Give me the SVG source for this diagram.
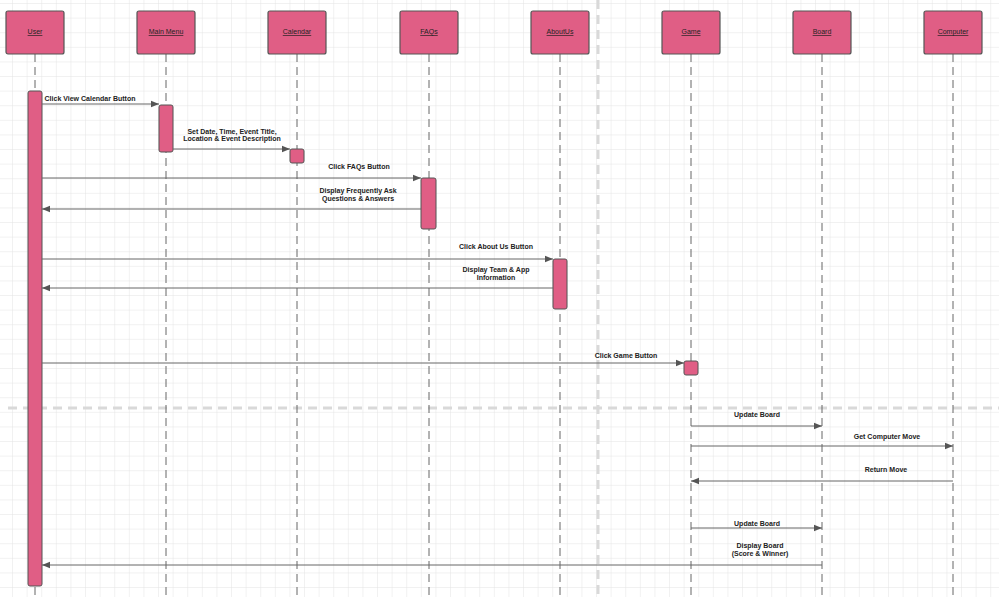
<svg xmlns="http://www.w3.org/2000/svg" width="999" height="597" viewBox="0 0 999 597">
<defs>
<pattern id="grid" width="14.6" height="14.6" patternUnits="userSpaceOnUse" x="13" y="4">
<path d="M14.6 0V14.6M0 14.6H14.6" fill="none" stroke="#e3e3e3" stroke-width="1"/>
</pattern>
<marker id="ah" viewBox="0 0 10 10" refX="10" refY="5" markerWidth="8" markerHeight="8" markerUnits="userSpaceOnUse" orient="auto">
<path d="M0 1L10 5L0 9Z" fill="#555"/>
</marker>
<style>
.hd{fill:#e05e85;stroke:#555;stroke-width:1.2}
.act{fill:#e05e85;stroke:#555;stroke-width:1}
.ll{stroke:#666;stroke-width:1;stroke-dasharray:8,5}
.nm{font-family:"Liberation Sans",Arial,sans-serif;font-size:7px;text-anchor:middle;text-decoration:underline;fill:#222}
.lb{font-family:"Liberation Sans",Arial,sans-serif;font-size:7px;font-weight:bold;text-anchor:middle;fill:#222}
.msg{stroke:#666;stroke-width:1;fill:none;marker-end:url(#ah)}
.div{stroke:#d9d9d9;stroke-width:3;stroke-dasharray:9,6}
</style>
</defs>
<rect width="999" height="597" fill="#fff"/>
<rect width="999" height="597" fill="url(#grid)"/>
<line class="div" x1="598" y1="0" x2="598" y2="597"/>
<line class="div" x1="8" y1="408" x2="999" y2="408"/>
<g id="lifelines">
<line class="ll" x1="35" y1="54" x2="35" y2="597"/>
<line class="ll" x1="166" y1="54" x2="166" y2="597"/>
<line class="ll" x1="297" y1="54" x2="297" y2="597"/>
<line class="ll" x1="429" y1="54" x2="429" y2="597"/>
<line class="ll" x1="560" y1="54" x2="560" y2="597"/>
<line class="ll" x1="691" y1="54" x2="691" y2="597"/>
<line class="ll" x1="822" y1="54" x2="822" y2="597"/>
<line class="ll" x1="953" y1="54" x2="953" y2="597"/>
</g>
<g id="user"><rect class="hd" x="6" y="11" width="58" height="43" rx="2"/><text class="nm" x="35" y="34">User</text><rect class="act" x="28" y="91" width="14" height="495" rx="2"/></g>
<g id="mainmenu"><rect class="hd" x="137" y="11" width="58" height="43" rx="2"/><text class="nm" x="166" y="34">Main Menu</text><rect class="act" x="159" y="105" width="14" height="47" rx="2"/></g>
<g id="calendar"><rect class="hd" x="268" y="11" width="58" height="43" rx="2"/><text class="nm" x="297" y="34">Calendar</text><rect class="act" x="290" y="149" width="14" height="14" rx="2"/></g>
<g id="faqs"><rect class="hd" x="400" y="11" width="58" height="43" rx="2"/><text class="nm" x="429" y="34">FAQs</text><rect class="act" x="421" y="178" width="15" height="51" rx="2"/></g>
<g id="aboutus"><rect class="hd" x="531" y="11" width="58" height="43" rx="2"/><text class="nm" x="560" y="34">AboutUs</text><rect class="act" x="553" y="259" width="14" height="50" rx="2"/></g>
<g id="game"><rect class="hd" x="662" y="11" width="58" height="43" rx="2"/><text class="nm" x="691" y="34">Game</text><rect class="act" x="684" y="361" width="14" height="14" rx="2"/></g>
<g id="board"><rect class="hd" x="793" y="11" width="58" height="43" rx="2"/><text class="nm" x="822" y="34">Board</text></g>
<g id="computer"><rect class="hd" x="924" y="11" width="58" height="43" rx="2"/><text class="nm" x="953" y="34">Computer</text></g>
<g id="connectors">
<line class="msg" x1="42" y1="104" x2="159" y2="104"/><text class="lb" x="90" y="101">Click View Calendar Button</text>
<line class="msg" x1="173" y1="149" x2="290" y2="149"/><text class="lb" x="232" y="134">Set Date, Time, Event Title,</text><text class="lb" x="232" y="141">Location &amp; Event Description</text>
<line class="msg" x1="42" y1="178" x2="421" y2="178"/><text class="lb" x="359" y="169">Click FAQs Button</text>
<line class="msg" x1="421" y1="209" x2="42" y2="209"/><text class="lb" x="358" y="193">Display Frequently Ask</text><text class="lb" x="358" y="201">Questions &amp; Answers</text>
<line class="msg" x1="42" y1="259" x2="553" y2="259"/><text class="lb" x="496" y="249">Click About Us Button</text>
<line class="msg" x1="553" y1="288" x2="42" y2="288"/><text class="lb" x="496" y="272">Display Team &amp; App</text><text class="lb" x="496" y="280">Information</text>
<line class="msg" x1="42" y1="363" x2="684" y2="363"/><text class="lb" x="626" y="358">Click Game Button</text>
<line class="msg" x1="691" y1="426" x2="822" y2="426"/><text class="lb" x="757" y="417">Update Board</text>
<line class="msg" x1="691" y1="446" x2="953" y2="446"/><text class="lb" x="887" y="439">Get Computer Move</text>
<line class="msg" x1="953" y1="481" x2="691" y2="481"/><text class="lb" x="886" y="472">Return Move</text>
<line class="msg" x1="691" y1="528" x2="822" y2="528"/><text class="lb" x="757" y="526">Update Board</text>
<line class="msg" x1="822" y1="565" x2="42" y2="565"/><text class="lb" x="760" y="548">Display Board</text><text class="lb" x="760" y="556">(Score &amp; Winner)</text>
</g>
</svg>
